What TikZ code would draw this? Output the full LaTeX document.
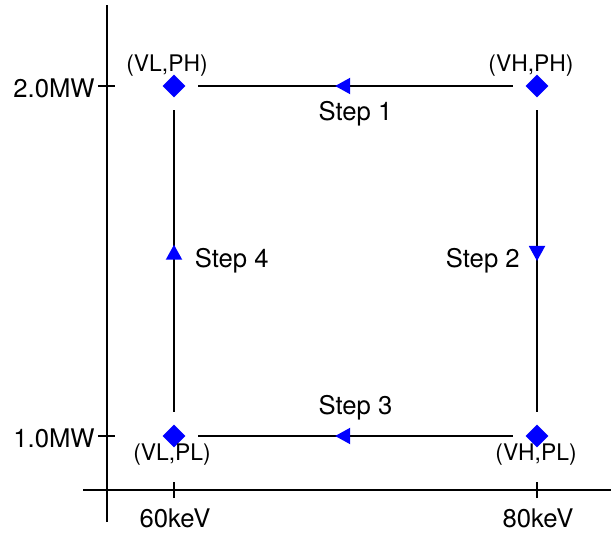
\documentclass[tikz,border=0pt]{standalone}
\usepackage{fontspec}
\setmainfont{TeX Gyre Heros}
\usetikzlibrary{arrows.meta, shapes.geometric, decorations.markings}

\begin{document}
\begin{tikzpicture}[
    line/.style    = {line width=1.1pt},
    state/.style   = {diamond, fill=blue, inner sep=0pt, minimum size=0.46cm},
    corner/.style  = {font=\fontsize{13pt}{15pt}\selectfont},
    lbl/.style     = {font=\fontsize{14.6pt}{17pt}\selectfont},
    flow/.style    = {line, shorten <=7pt, shorten >=7pt,
                      postaction={decorate},
                      decoration={markings,
                        mark=at position #1 with {\arrow[blue]{Triangle[length=0.3cm, width=0.32cm]}}}},
    flow/.default  = 0.56
]
\useasboundingbox (0, 0) rectangle (12.22, 10.68);

% Axes
\coordinate (ytop) at (2.14, 10.58);
\coordinate (ybot) at (2.14, 0.24);
\coordinate (xleft) at (1.66, 0.88);
\coordinate (xright) at (12.22, 0.88);
\draw[line] (ybot) -- (ytop);
\draw[line] (xleft) -- (xright);
\foreach \y in {8.96, 1.96}
    \draw[line] (1.96, \y) -- (2.30, \y);
\foreach \x in {3.48, 10.74}
    \draw[line] (\x, 0.72) -- (\x, 1.04);
\node[lbl] (pH) at (1.08, 8.92) {2.0MW};
\node[lbl] (pL) at (1.08, 1.92) {1.0MW};
\node[lbl] (vL) at (3.50, 0.32) {60keV};
\node[lbl] (vH) at (10.76, 0.32) {80keV};

% Operating points
\node[state] (VLPH) at (3.48, 8.96) {};
\node[state] (VHPH) at (10.74, 8.96) {};
\node[state] (VLPL) at (3.48, 1.96) {};
\node[state] (VHPL) at (10.74, 1.96) {};
\node[corner] at (3.34, 9.36) {(VL,PH)};
\node[corner] at (10.62, 9.36) {(VH,PH)};
\node[corner] at (3.44, 1.58) {(VL,PL)};
\node[corner] at (10.72, 1.58) {(VH,PL)};

% Steps
\draw[flow] (VHPH) -- (VLPH) node[lbl, pos=0.5, below=5pt] {Step 1};
\draw[flow=0.5] (VHPH) -- (VHPL) node[lbl, pos=0.5, left=6pt] {Step 2};
\draw[flow] (VHPL) -- (VLPL) node[lbl, pos=0.5, above=5pt] {Step 3};
\draw[flow=0.55] (VLPL) -- (VLPH) node[lbl, pos=0.5, right=8pt] {Step 4};

\end{tikzpicture}
\end{document}
